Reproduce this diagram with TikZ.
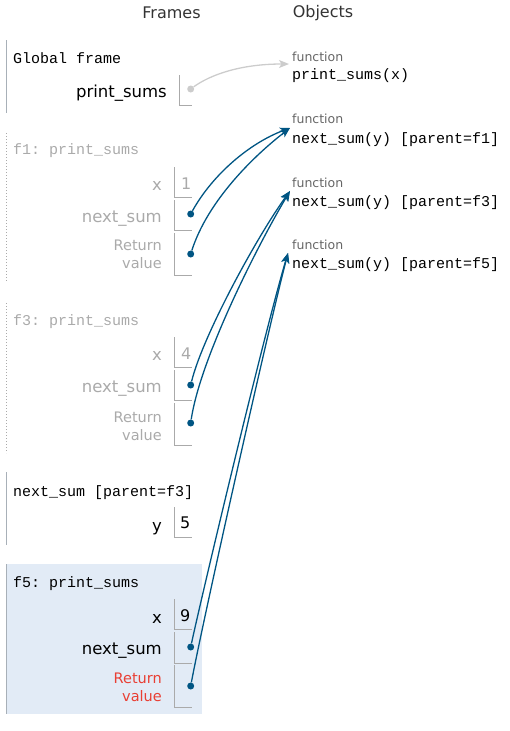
\documentclass[tikz,border=0pt]{standalone}
\usepackage{fontspec}
\setmainfont{DejaVu Sans}
\setmonofont{Liberation Mono}
\usetikzlibrary{arrows.meta}
\definecolor{ptrblue}{HTML}{005583}
\definecolor{fadegray}{HTML}{AAAAAA}
\definecolor{edgegray}{HTML}{A8B0B8}
\definecolor{hilite}{HTML}{E2EBF6}
\definecolor{retred}{HTML}{E93F34}
\definecolor{typegray}{HTML}{666666}
\definecolor{headgray}{HTML}{333333}
\definecolor{oldptr}{HTML}{CCCCCC}

\begin{document}
\begin{tikzpicture}[x=1pt,y=-1pt,
  hdr/.style={font=\fontsize{16}{16}\selectfont, text=headgray},
  ftitle/.style={anchor=mid west, yshift=-3.5pt, font=\ttfamily\fontsize{15}{15}\selectfont},
  vname/.style={anchor=mid east, yshift=-3.5pt, font=\fontsize{16.5}{16.5}\selectfont},
  vval/.style={anchor=mid west, yshift=-3.5pt, font=\fontsize{16}{16}\selectfont},
  rname/.style={anchor=east, align=right, font=\fontsize{14.5}{18}\selectfont},
  otype/.style={anchor=mid west, yshift=-3pt, font=\fontsize{12.5}{12.5}\selectfont, text=typegray},
  oname/.style={anchor=mid west, yshift=-3pt, font=\ttfamily\fontsize{15}{15}\selectfont},
  cell/.style={draw=fadegray, line width=1pt},
  ptrdot/.style={circle, fill=ptrblue, minimum size=7pt},
  ptr/.style={draw=ptrblue, line width=1.3pt, -{Stealth[length=10pt,width=8pt,inset=2.5pt]}}]
\tikzstyle{every node}+=[inner sep=0pt]
\useasboundingbox (0,0) rectangle (510,731);
\node[hdr] (hframes) at (171.5,13) {Frames};
\node[hdr] (hobjects) at (323,13) {Objects};
\draw [edgegray, line width=1.3pt] (6.7,40) -- (6.7,113);
\node[ftitle] (gtitle) at (13,57) {Global frame};
\node[vname] (gps) at (167,91) {print\_sums};
\draw [cell] (179.3,75) |- (192,105);
\node[ptrdot, fill=oldptr] (gpsdot) at (190.7,89) {};
\draw [fadegray, line width=1pt, dash pattern=on 1pt off 2pt] (6.7,133) -- (6.7,282);
\node[ftitle, text=fadegray] (f1title) at (13,148) {f1: print\_sums};
\node[vname, text=fadegray] (f1x) at (162,184) {x};
\draw [cell] (174.3,167) |- (192,197);
\node[vval, text=fadegray] (f1xv) at (181,183) {1};
\node[vname, text=fadegray] (f1n) at (162,216) {next\_sum};
\draw [cell] (174.3,200) |- (192,230);
\node[ptrdot] (f1ndot) at (190.7,214) {};
\node[rname, text=fadegray] (f1r) at (162,254.5) {Return\\value};
\draw [cell] (174.3,233) |- (192,275);
\node[ptrdot] (f1rdot) at (190.7,254) {};
\draw [fadegray, line width=1pt, dash pattern=on 1pt off 2pt] (6.7,303) -- (6.7,453);
\node[ftitle, text=fadegray] (f3title) at (13,319) {f3: print\_sums};
\node[vname, text=fadegray] (f3x) at (162,354) {x};
\draw [cell] (174.3,337) |- (192,367);
\node[vval, text=fadegray] (f3xv) at (181,353) {4};
\node[vname, text=fadegray] (f3n) at (162,386) {next\_sum};
\draw [cell] (174.3,370) |- (192,400);
\node[ptrdot] (f3ndot) at (190.7,385) {};
\node[rname, text=fadegray] (f3r) at (162,426) {Return\\value};
\draw [cell] (174.3,403) |- (192,445);
\node[ptrdot] (f3rdot) at (190.7,423) {};
\draw [edgegray, line width=1.3pt] (6.7,472) -- (6.7,545);
\node[ftitle] (ntitle) at (13,490) {next\_sum [parent=f3]};
\node[vname] (ny) at (162,525) {y};
\draw [cell] (174.3,507) |- (192,537);
\node[vval] (nyv) at (180,522) {5};
\fill [hilite] (6.7,564) rectangle (201.7,714);
\draw [edgegray, line width=1.3pt] (6.7,564) -- (6.7,714);
\node[ftitle] (f5title) at (13,581) {f5: print\_sums};
\node[vname] (f5x) at (162,617) {x};
\draw [cell] (174.3,599) |- (192,629);
\node[vval] (f5xv) at (180,615) {9};
\node[vname] (f5n) at (162,648) {next\_sum};
\draw [cell] (174.3,632) |- (192,663);
\node[ptrdot] (f5ndot) at (190.7,647) {};
\node[rname, text=retred] (f5r) at (162,687.5) {Return\\value};
\draw [cell] (174.3,665) |- (192,707);
\node[ptrdot] (f5rdot) at (190.7,686) {};
\node[otype] (o1type) at (292,56) {function};
\node[oname] (o1name) at (292,74) {print\_sums(x)};
\coordinate (o1tip) at (289,64);
\node[otype] (o2type) at (292,118) {function};
\node[oname] (o2name) at (292,138) {next\_sum(y) [parent=f1]};
\coordinate (o2tip) at (290,128);
\node[otype] (o3type) at (292,182) {function};
\node[oname] (o3name) at (292,201) {next\_sum(y) [parent=f3]};
\coordinate (o3tip) at (290,191);
\node[otype] (o4type) at (292,244) {function};
\node[oname] (o4name) at (292,263) {next\_sum(y) [parent=f5]};
\coordinate (o4tip) at (288,253);
\draw [ptr, draw=oldptr] (gpsdot) .. controls (210,75) and (240,64) .. (o1tip);
\draw [ptr] (f1ndot) .. controls (213,174) and (250,143) .. (o2tip);
\draw [ptr] (f1rdot) .. controls (208,200) and (255,155) .. (o2tip);
\draw [ptr] (f3ndot) .. controls (203,335) and (258,235) .. (o3tip);
\draw [ptr] (f3rdot) .. controls (200,360) and (255,250) .. (o3tip);
\draw [ptr] (f5ndot) .. controls (203,590) and (265,330) .. (o4tip);
\draw [ptr] (f5rdot) .. controls (203,620) and (268,330) .. (o4tip);
\end{tikzpicture}
\end{document}
